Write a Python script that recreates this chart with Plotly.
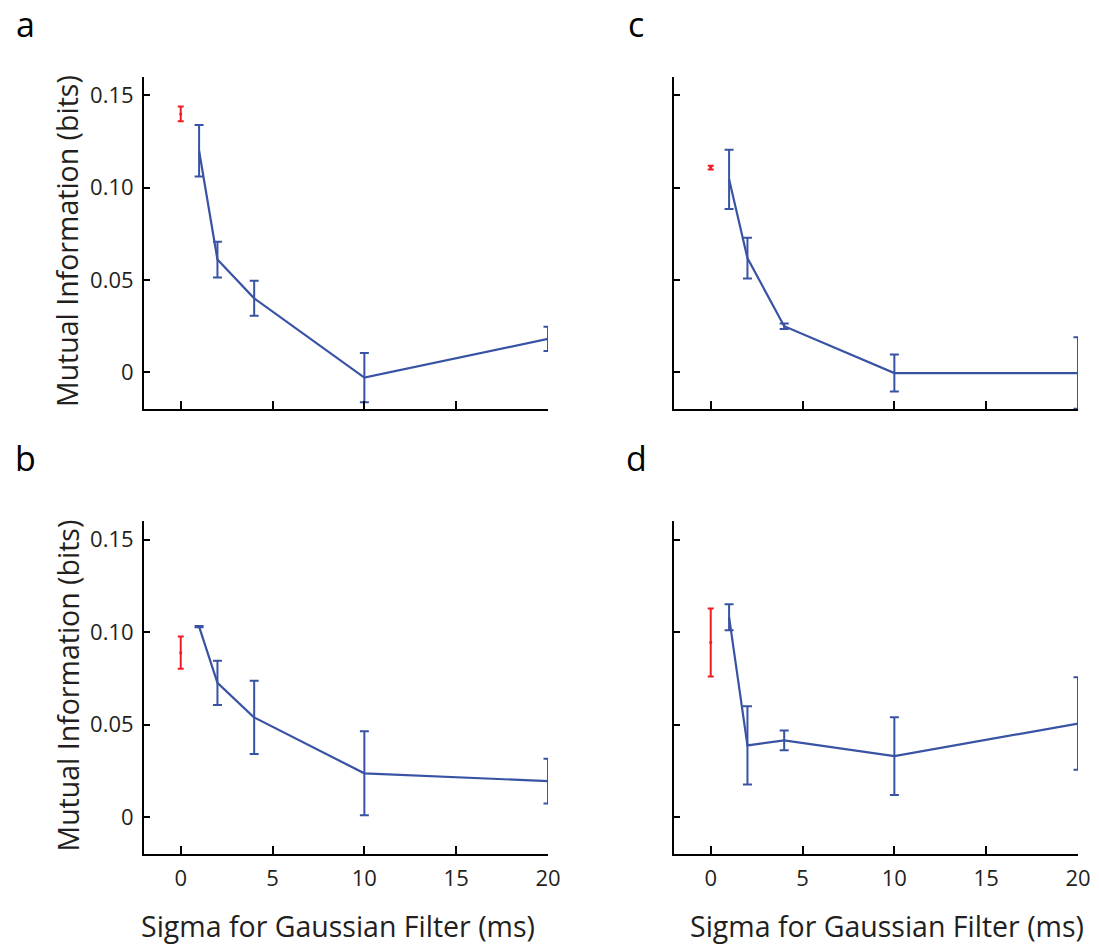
import plotly.graph_objects as go

# ---- data ----
sigma = [1, 2, 4, 10, 20]
red_x = [0]

a_red, a_red_err = [0.140], [0.004]
a_mi = [0.120, 0.061, 0.040, -0.003, 0.018]
a_err = [0.014, 0.0097, 0.0095, 0.0134, 0.0066]

b_red, b_red_err = [0.0888], [0.0087]
b_mi = [0.1029, 0.0725, 0.0538, 0.0236, 0.0194]
b_err = [0.0004, 0.012, 0.0198, 0.0227, 0.0121]

c_red, c_red_err = [0.1109], [0.001]
c_mi = [0.1045, 0.0618, 0.0249, -0.0005, -0.0005]
c_err = [0.016, 0.011, 0.0015, 0.010, 0.0194]

d_red, d_red_err = [0.0943], [0.0184]
d_mi = [0.108, 0.0387, 0.0414, 0.0329, 0.0505]
d_err = [0.007, 0.0212, 0.0053, 0.021, 0.025]

x_ticks = [0, 5, 10, 15, 20]
y_ticks = [0, 0.05, 0.10, 0.15]
y_ticklabels = ["0", "0.05", "0.10", "0.15"]
panel_letters = ["a", "b", "c", "d"]

BLUE = "rgb(57,83,164)"
RED = "rgb(237,28,36)"
TXT = "#231f20"
FONT = "Open Sans"
W, H = 1099, 945

panels = [
    ("a", a_red, a_red_err, a_mi, a_err, (144, 548), (77, 409), False, True),
    ("b", b_red, b_red_err, b_mi, b_err, (144, 548), (521, 854), True, True),
    ("c", c_red, c_red_err, c_mi, c_err, (674, 1078), (77, 409), False, False),
    ("d", d_red, d_red_err, d_mi, d_err, (674, 1078), (521, 854), True, False),
]

fig = go.Figure()
layout = {}
annotations = []
for i, (letter, red, red_err, mi, err, xd, yd, showx, showy) in enumerate(panels):
    n = "" if i == 0 else str(i + 1)
    xa, ya = "x" + n, "y" + n
    fig.add_trace(go.Scatter(
        x=sigma, y=mi, mode="lines", xaxis=xa, yaxis=ya, cliponaxis=False,
        line=dict(color=BLUE, width=2.2),
        error_y=dict(type="data", array=err, visible=True, color=BLUE, thickness=2, width=4.5),
        showlegend=False, hoverinfo="skip"))
    fig.add_trace(go.Scatter(
        x=red_x, y=red, mode="markers", xaxis=xa, yaxis=ya, cliponaxis=False,
        marker=dict(color=RED, size=3),
        error_y=dict(type="data", array=red_err, visible=True, color=RED, thickness=2, width=3),
        showlegend=False, hoverinfo="skip"))
    layout["xaxis" + n] = dict(
        domain=[xd[0] / W, xd[1] / W], range=[-2, 20], anchor=ya, automargin=False,
        tickmode="array", tickvals=x_ticks, ticktext=[str(v) for v in x_ticks],
        showticklabels=showx, ticks="inside", ticklen=8, tickwidth=2, tickcolor="black",
        ticklabelstandoff=4,
        showline=True, linecolor="black", linewidth=2, showgrid=False, zeroline=False,
        tickfont=dict(family=FONT, size=22, color=TXT), fixedrange=True)
    layout["yaxis" + n] = dict(
        domain=[(H - yd[1]) / H, (H - yd[0]) / H], range=[-0.02, 0.16], anchor=xa, automargin=False,
        tickmode="array", tickvals=y_ticks, ticktext=y_ticklabels,
        showticklabels=showy, ticks="inside", ticklen=6, tickwidth=2, tickcolor="black",
        ticklabelstandoff=4,
        showline=True, linecolor="black", linewidth=2, showgrid=False, zeroline=False,
        tickfont=dict(family=FONT, size=22, color=TXT), fixedrange=True)
    lx = 25 if xd[0] < 300 else 636
    ly = 24 if yd[0] < 300 else 458
    annotations.append(dict(text=letter, x=lx / W, y=1 - ly / H, xref="paper", yref="paper",
                            xanchor="center", yanchor="middle", showarrow=False,
                            font=dict(family=FONT, size=34, color="black")))
    if showy:
        annotations.append(dict(text="Mutual Information (bits)", x=67 / W,
                                y=1 - ((yd[0] + yd[1]) / 2 - 2) / H, xref="paper", yref="paper",
                                xanchor="center", yanchor="middle", textangle=-90, showarrow=False,
                                font=dict(family=FONT, size=28.5, color=TXT)))
    if showx:
        cx = 338 if xd[0] < 300 else 887
        annotations.append(dict(text="Sigma for Gaussian Filter (ms)", x=cx / W, y=1 - 926 / H,
                                xref="paper", yref="paper", xanchor="center", yanchor="middle",
                                showarrow=False, font=dict(family=FONT, size=28.5, color=TXT)))

fig.update_layout(width=W, height=H, margin=dict(l=0, r=0, t=0, b=0, autoexpand=False),
                  autosize=False, paper_bgcolor="white", plot_bgcolor="white",
                  annotations=annotations, **layout)
fig.write_html(
    "out.html",
    config={"displayModeBar": False, "responsive": False},
    post_script=("document.body.style.margin='0';document.body.style.overflow='hidden';"
                 "Plotly.relayout('{plot_id}', {width: 1099, height: 945});"),
)
